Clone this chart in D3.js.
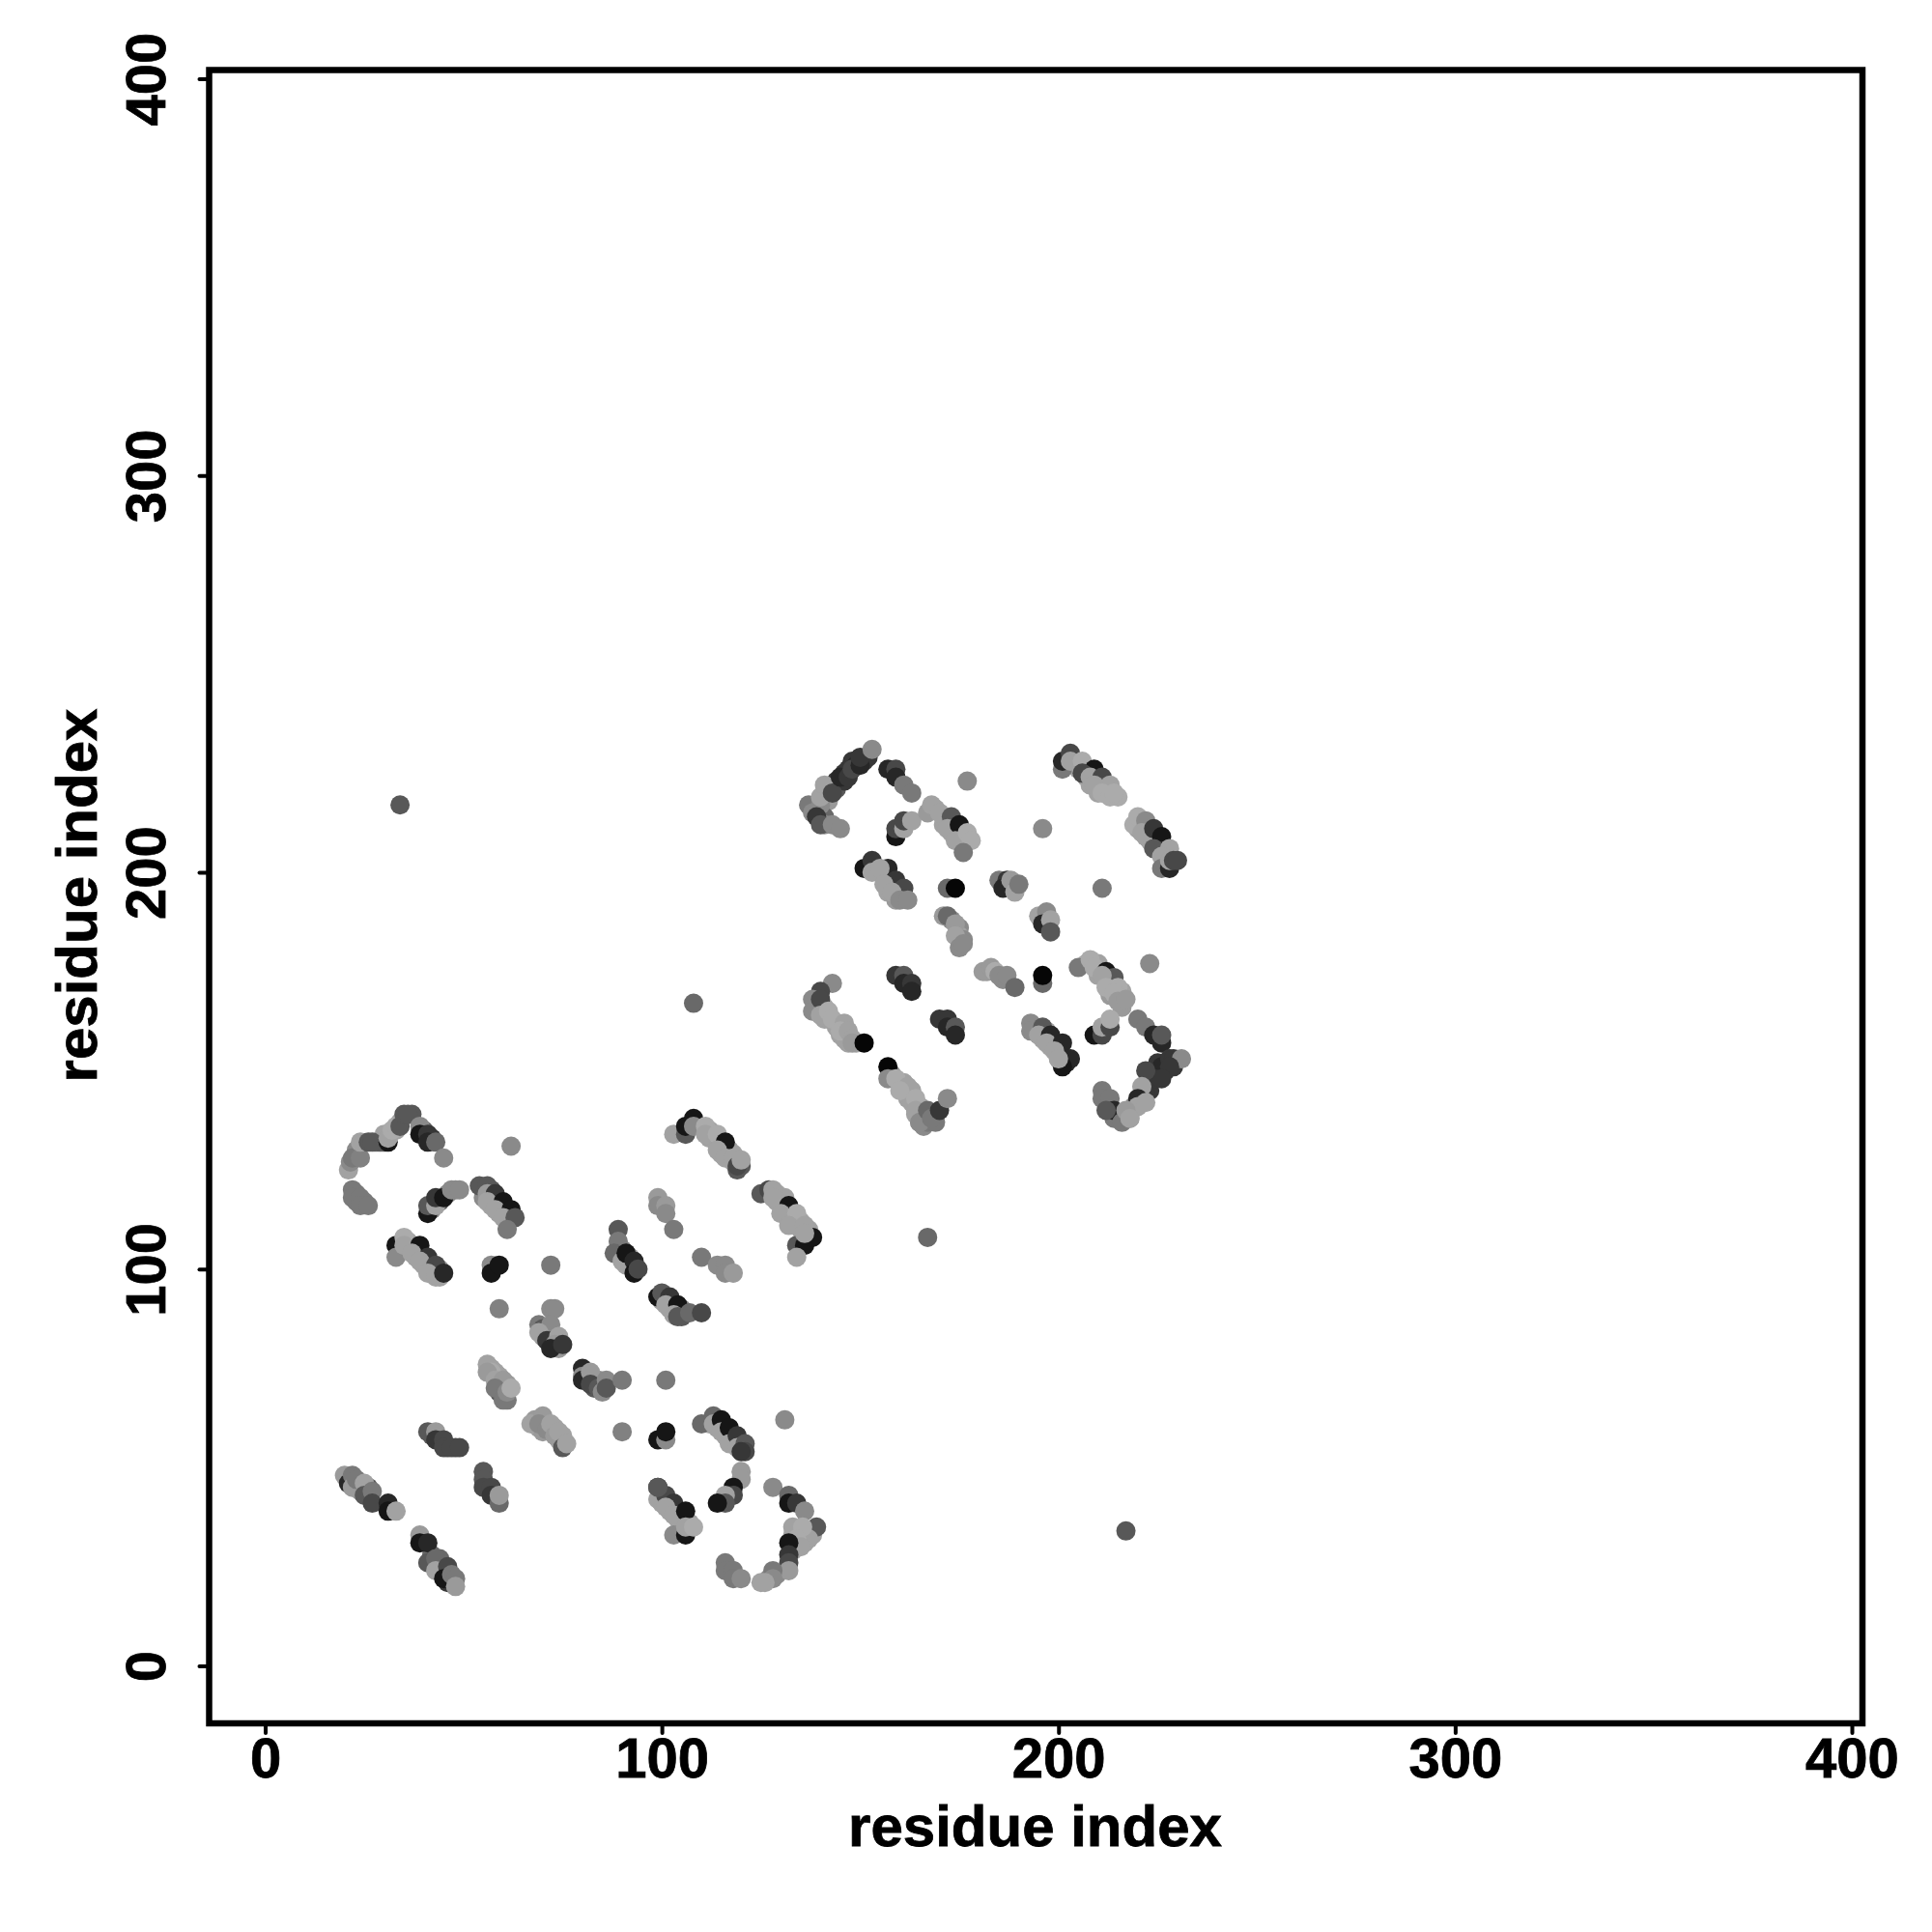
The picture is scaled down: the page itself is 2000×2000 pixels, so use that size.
<!DOCTYPE html>
<html><head><meta charset="utf-8">
<style>html,body{margin:0;padding:0;background:#fff}svg{display:block}</style>
<script src="https://cdn.jsdelivr.net/npm/d3@7"></script></head>
<body><svg id="c" width="2000" height="2000"></svg>
<script>
const tickValues = [0,100,200,300,400];
const axisTitle = "residue index";
const bandI = [
23,28,29,30,34,33,30,37,40,42,
23,25,23,
42,44,46,48,
55,57,55,57,59,59,61,61,57,
36,38,40,42,44,36,38,42,44,
70,71,73,72,73,74,
81,83,83,84,
57,58,59,60,59,61,59,61,
68,69,70,71,70,72,73,74,75,75,
42,44,46,48,
112,114,116,118,116,120,
100,100,102,102,104,104,105,107,
24,23,26,21,24,26,
42,44,44,45,46,47,46,47,
112,113,112,115,114,115,117,116,117,118,115,118,120,
129,130,131,131,133,133,135,135,137,136,129,
90,92,91,100,102,102,105,105,
133,136,136,133,137,138,134,133,127,129,
142,142,144,144,146,147,148,149,151,152,139,141,141,146,
169,171,171,173,175,173,176,
154,156,158,157,160,161,159,
173,175,175,176,
182,186,
210,207,210,213,213,216,213,216,
227,225,223,221,221,219,218,215,214,216,213,212,218,227,229,225,222,223,
194,195,197,196,199,198,200,200,202,
202,204,205,207,207,208,210,212,212,210,215,
220,221,222,223,224,225,226,227,228,
139,141,142,144,144,145,146,147,149,141,
158,160,161,163,162,163,165,166,166,167,169,165,164,161
];
const bandJ = [
130,132,132,132,137,135,134,139,135,133,
119,117,117,
115,117,119,120,
120,120,118,118,116,114,115,113,116,
105,103,101,99,98,107,105,101,100,
83,84,82,82,81,80,
72,72,70,72,
75,74,73,70,71,71,69,67,
62,60,61,61,59,59,60,57,57,58,
58,57,55,55,
61,60,58,57,60,55,
43,41,41,39,39,37,36,36,
44,45,43,47,46,45,
28,25,27,24,23,21,21,22,
135,134,133,132,132,130,130,130,128,129,129,127,126,
119,117,118,115,114,112,112,110,110,108,117,
105,103,101,92,90,92,90,88,
33,33,31,35,34,33,30,29,22,23,
221,218,223,221,225,226,228,227,228,229,216,214,212,223,
216,214,212,212,209,210,209,
201,199,197,195,195,194,193,
188,186,184,183,
175,173,
177,177,174,172,170,170,169,166,
152,149,147,144,142,141,139,138,138,138,141,142,138,150,151,152,145,145,
161,159,160,158,157,156,155,153,152,
227,227,226,226,224,222,222,221,220,220,219,
211,212,209,208,208,206,205,204,204,
166,163,163,162,161,159,158,157,157,166,
149,147,145,145,143,142,141,138,136,137,137,137,139,147
];
const bandScore = [
8,7,5,5,9.5,9.5,9.5,5,6,3,
7,7,7,
8,5,8,8,
5,5,8,9.5,9.5,9.5,9.5,9.5,9.5,
9.5,9.5,9.5,9.5,9.5,9.5,9.5,9.5,9.5,
9,8,9,2,3,9,
8,8,5,8,
9.5,9.5,9.5,9,8,9,5,7,
9,9.5,9.5,9,9,9,9.5,9.5,9.5,9.5,
5,3,4,4,
9.5,9.5,9.5,9.5,9.5,9.5,
9.5,9.5,9.5,9.5,9.5,9.5,9.5,9.5,
9,8,5,8,8,5,
6,5,6,6,8,8,3,4,
9.5,9.5,9.5,9.5,9.5,9.5,9.5,9.5,9.5,9.5,9.5,9.5,5,
9.5,9.5,9.5,9.5,9.5,9.5,9.5,9.5,9.5,9.5,9.5,
8,9.5,9.5,9.5,9.5,9.5,8,5,
9.5,9.5,9.5,9.5,9.5,9.5,10,9.5,8,8,
9,9,3,5,3,3,3,2,3,3,9.5,6,8,3,
9.5,9.5,9.5,9.5,9.5,9.5,9.5,
9.5,9.5,9.5,9.5,9.5,9.5,9,
8,8,9.5,8,
9,8,
9.5,10,9.5,9.5,9.5,9.5,9,9,
3,3,4,9.5,4,8,8,7,7,8,5,7,9.5,3,3,3,3,3,
8,9,9.5,9.5,9.5,9.5,9.5,9.5,2,
5,9.5,9.5,9.5,9.5,9.5,9.5,9.5,9.5,9.5,10,
9.5,9.5,9.5,9.5,9.5,9.5,9.5,9.5,9.5,
9.5,9.5,9.5,9.5,9.5,9.5,9.5,9.5,9.5,9.5,
8,9.5,9.5,9.5,9.5,9.5,9.5,9,8,7,7,8,9.5,9.5
];
const residueI = [
21,21.5,22,24,24,26,27,31,31,32,33,34,35,36,39,39,41,41,43,45,62,
22,22,24,24,26,
41,41,43,43,45,47,49,
54,56,56,58,56,60,58,62,60,63,61,
33,33,35,35,39,37,41,39,43,41,43,45,
57,57,59,72,59,
72,73,69,70,72,69,71,74,73,72,75,
80,80,80,82,82,84,85,86,86,90,101,
56,57,56,58,60,58,60,61,62,
67,70,69,71,72,73,74,75,76,
41,43,43,45,45,47,49,
90,99,101,101,
110,113,113,115,115,117,117,119,119,121,121,120,131,
120,120,118,118,116,116,114,128,
132,132,134,136,139,137,135.5,134,135,132,132,132,132,128,128,126,125,
116,116,118,118,120,
99,99,101,99,103,101,103,106,103,106,106,108,
20,21,22,22,23,25,25,27,27,31,31,33,
55,55,55,57,57,59,59,
39,39,41,41,43,43,46,45,47,48,48,
34,108,167,217,
103,106,106,108,108,111,111,114,116,114,116,118,119,119,120,
125,127,128,128,132,130,134,132,136,134,136,134,138,136,
99,99,101,101,103,
89,89,88,90,91,93,93,94,
99,100,102,101,104,103,104,107,110,
110,114,116,116,118,
137,138,140,139,140,143,145,140,141,143,145,147,148,150,150,153,157,159,159,161,163,177,
159,159,161,161,163,
167,168,170,173,172,175,174,177,178,176,
151,153,153,157,155,159,156,161,158,160,162,
172,174,
185,187,186,188,189,190,
195,197,196,198,198,196,211,
171,172,174,174,175,176,
181,183,184,185,187,189,
159,161,161,163,163,
196,196,
205,208,209,212,214,211,212,215,214,215,217,223,
209,211,211,213,213,
220,222,224,226,226,226,228,229,231,228,224,226,222,222,221,220,220,222,
211,211,213,214,212,216,217,218,
193,193,196,195,198,197,201,199,203,201,200,
201,201,203,203,206,209,206,208,211,209,213,211,213,214,
219,220,222,221,224,226,224,228,226,226,228,228,229,230,
143,140,138,138,140,140,142,143,146,145,147,148,148,151,
157,157,159,162,160,164,164,165,167,168,170,172,
170,172,172,174,174
];
const residueJ = [
125,127,128,128,132,132,132,132,133,135,136,136,139,139,136,134,134,132,132,128,131,
120,118,118,116,116,
114,116,116,118,118,120,120,
121,121,119,119,117,117,115,115,113,113,110,
106,103,108,106,106,104,103,102,101,99,98,99,
101,99,101,101,90,
90,90,86,85,86,84,82,83,81,80,81,
75,73,72,74,71,70,69,72,70,72,72,
76,74,74,72,72,70,67,69,70,
61,63,61,59.5,61,58,59,55,56,
59,59,57,57,55,55,55,
59,57,57,59,
61,63,61,62,59,60,56,58,55,56,54,54,62,
49,47,45,43,43,41,41,45,
43,41,41,39,35,32,35,32,30,31,28,26,24,24,22,21,21,
26,24,24,22,22,
45,42,43,45,41,40,38,39,33,33,35,35,
48,46,48,45,47,46,43,44,41,41,39,39,
49,47,45,45,43,41,43,
33,31,31,26,27,24,25,22,23,22,20,
217,167,108,34,
134,134,136,138,136,136,134,134,132,130,128,128,125,126,127.5,
119,120,120,118,116,114,114,111,111,106,106,103,108,109,
118,116,116,114,110,
110,107,104,102,104,102,99,100,
93,94,93,91,91,88.5,88,89,89,
103,101,101,99,99,
217,215,217,214,212,212,211,219,222,220,224,224,226,227,229,231,226,226,224,222,220,223,
209,211,211,213,213,
215,217,215,214,211,212,208,210,208,205,
201,203,200,201,201,198,197,196,195,193,193,
196,196,
198,198,196,198,195,197,
189,190,187,188,185,211,196,
189,189,187,184,181,182,
175,176,175,174,174,171,
174,174,172,172,170,
172,174,
176,178,176,175,173.5,174,171,171,169.5,167.5,168,177,
159,159,161,161,163,
163,161,159,157,159,151,153,153,153,151,148,148,150,144,146,143,141,142,
145,143,143,140,140,137,140,138,
162,160,161,159,159,157,157,155,153,151,153,
226,228,230,228,228,226,225,224,224,222,222,220,219,220,
212,214,213,210,211,209,206,206,204,201,201,203,203,203,
172,170,168,165,168,164,165,163,162,160,160,158,157,157,
151,148,148,146,145,143,140,137,140,138,140,143,
163,163,161,161,159
];
const score = [
9.5,8,7,7.5,9.5,5,5,1,9.5,10,10,5,5,5,8,1,3,2,6,8,8,
7,7,7,7,7,
1,5,9.5,3,1,8,8,
5,5,9,3,9.5,1,9.5,1,9.5,5,7,
1,8,10,9.5,1,9.5,3,9.5,4,9.5,9.5,2,
8,1,1,7,7.5,
8,8,7,5,8,9.5,3,9.5,9,2,3,
2,8,2,9,4,5,8,8,5,7,7,
9.5,10,9,9.5,9,7,7,8,10,
9.5,9,8,8,9.5,9,9.5,5,9.5,
5,9,3,4,4,4,4,
7.5,1,8,1,
6,6,9.5,1,9.5,1,9.5,3,9.5,5,4,3,8,
9,9,1,4,9.5,5,1,8,
6,1,3,8,5,9.5,10,10,9.5,1,3,4,9,7,8,9.5,9.5,
7,7,7,7,8,
2,9.5,4,5,3,9.5,9.5,1,8,1,9.5,10,
9,2,7,9,7,9.5,5,7,4,2,1,9.5,
5,5,4,4,3,6,9,
9,1,2,5,6,9.5,4,1,7,7,9,
5,6,6,5,
9.5,5,1,1,8,10,9.5,10,1,9.5,9.5,9.5,5,4,9.5,
5,4,9.5,9.5,1,9.5,10,9.5,9.5,5,1,9.5,1,9.5,
9,8,9,8,7,
5,7,6,9.5,1,2,1,4,
1,5,3,9.5,1,9.5,5,6,4,
7,8,8,8,9,
7,8,8,3,5,8,8,9.5,9.5,4,2,3,4,2,3,8,2,4,2,7,7,8,
1,4,9.5,4,9.5,
9,9.5,9.5,5,9.5,1,9.5,10,10,7,
1,3,9.5,2,9.5,3,9.5,4,9.5,8,8,
6,0,
7,3,2,9,9.5,7,
9.5,8,2,9.5,5,8,7,
9,6,9,9.5,8,8,
9,9,10,8,8,6,
3,5,2,3,2,
6,0,
7,10,10,1,5,9.5,10,10,10,9,9,8,
1,4,9.5,4,10,
7,7,2,2,5,2,3,3,8,3,3,3,4,3,9.5,2,9.5,9.5,
7,7,7,2,5,7,9,9.5,
8,8,5,9.5,2,9.5,2,9.5,2,1,9.5,
7,2,4,9.5,10,1,4,9.5,4,9.5,9.5,10,10,10,
10,10,8,9.5,3,1,5,9.5,9.5,7,2,9.5,4,4,
8,4,8,8,4,9.5,10,10,9.5,10,9.5,9.5,9,0,
0,8,10,9.5,10,10,9.5,8,6,7,3,8,
3,3,2,5,2
];

const svg = d3.select("#c");
const font = "'Liberation Sans', Arial, sans-serif";
const x = d3.scaleLinear().domain([0,400]).range([274.5,1917]);
const y = d3.scaleLinear().domain([0,400]).range([1724.5,81.6]);
const grey = d3.scaleLinear().domain([0,11]).range(["#060606","#bbbbbb"]);

svg.append("rect").attr("width",2000).attr("height",2000).attr("fill","#fff");

const allI = bandI.concat(residueI), allJ = bandJ.concat(residueJ), allS = bandScore.concat(score);
svg.append("g").selectAll("circle").data(d3.range(allI.length)).join("circle")
  .attr("cx",i=>x(allI[i])).attr("cy",i=>y(allJ[i])).attr("r",10)
  .attr("fill",i=>grey(allS[i]));

svg.append("rect").attr("x",216.5).attr("y",72.5).attr("width",1711.5).attr("height",1711.5)
  .attr("fill","none").attr("stroke","#000").attr("stroke-width",6.5);

const bottom = svg.append("g").attr("transform","translate(0,1784)")
  .call(d3.axisBottom(x).tickValues(tickValues).tickSize(10).tickPadding(0).tickFormat(d3.format("d")));
const left = svg.append("g").attr("transform","translate(216.5,0)")
  .call(d3.axisLeft(y).tickValues(tickValues).tickSize(10).tickPadding(0).tickFormat(d3.format("d")));
[bottom,left].forEach(g=>{
  g.select(".domain").remove();
  g.selectAll("line").attr("stroke","#000").attr("stroke-width",4).attr("stroke-linecap","round");
  g.selectAll("text").attr("font-family",font).attr("font-weight","bold").attr("font-size",58)
    .attr("fill","#000").attr("stroke","#000").attr("stroke-width",0.8);
});
bottom.selectAll("text").attr("y",56).attr("dy",null).attr("text-anchor","middle");
left.selectAll("text").attr("x",null).attr("y",0).attr("dy",null).attr("text-anchor","middle")
  .attr("transform","translate(-46,0) rotate(-90)");

svg.append("text").attr("x",1071.5).attr("y",1911).attr("text-anchor","middle")
  .attr("font-family",font).attr("font-weight","bold").attr("font-size",60)
  .attr("stroke","#000").attr("stroke-width",0.8).text(axisTitle);
svg.append("text").attr("transform","translate(99.5,927) rotate(-90)").attr("text-anchor","middle")
  .attr("font-family",font).attr("font-weight","bold").attr("font-size",60)
  .attr("stroke","#000").attr("stroke-width",0.8).text(axisTitle);
</script></body></html>
